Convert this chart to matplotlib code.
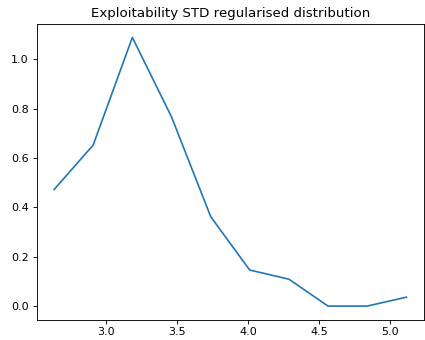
import matplotlib
matplotlib.use('Agg')
import matplotlib.pyplot as plt

# Valores
std_values = [2.633, 2.908, 3.184, 3.46, 3.736, 4.01, 4.286, 4.562, 4.838, 5.114]
density = [0.472, 0.652, 1.088, 0.766, 0.362, 0.146, 0.109, 0.0, 0.0, 0.036]

# dpi menor para que textos e linhas fiquem na escala da referencia
fig = plt.figure(figsize=(425 / 80, 340 / 80), dpi=80)
ax = fig.add_axes([36.5 / 425, (340 - 319.5) / 340, (424 - 36.5) / 425, (319.5 - 24) / 340])

ax.plot(std_values, density, color='#1f77b4')
ax.set_title('Exploitability STD regularised distribution')

fig.savefig('out.png', dpi=80)
plt.close()
